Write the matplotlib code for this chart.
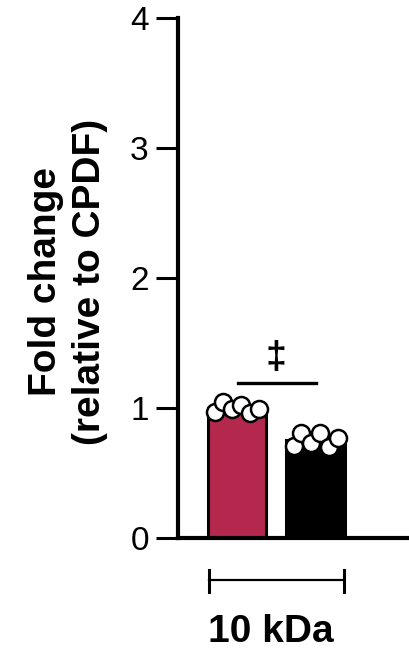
import matplotlib.pyplot as plt

plt.rcParams['font.family'] = ['Liberation Sans', 'DejaVu Sans']

groups = ['CPDF', 'Other']
bar_colors = ['#b5284e', '#000000']
red_points = [0.97, 1.05, 0.99, 1.02, 0.96, 0.99]
black_points = [0.71, 0.81, 0.73, 0.81, 0.70, 0.77]
point_offsets = [-0.28, -0.18, -0.06, 0.05, 0.17, 0.28]
yticks = [0, 1, 2, 3, 4]
xlabel = '10 kDa'
ylabel = 'Fold change\n(relative to CPDF)'
sig_mark = '‡'

fig = plt.figure(figsize=(4.1, 6.49), dpi=100)
ax = fig.add_axes([0.434, 0.171, 0.566, 0.801])

series = [red_points, black_points]
for i, pts in enumerate(series):
    mean = sum(pts) / len(pts)
    ax.bar(i, mean, width=0.74, color=bar_colors[i], edgecolor='black',
           linewidth=2.2, zorder=2)
    xs = [i + o for o in point_offsets]
    ax.scatter(xs, pts, s=150, facecolor='white', edgecolor='black',
               linewidth=1.8, zorder=3, clip_on=False)

ax.set_xlim(-0.75, 2.2)
ax.set_ylim(0, 4)
ax.set_yticks(yticks)
ax.set_xticks([])
for s in ['top', 'right']:
    ax.spines[s].set_visible(False)
ax.spines['left'].set_linewidth(3)
ax.spines['bottom'].set_linewidth(3)
ax.tick_params(axis='y', length=16, width=2.2, labelsize=24, pad=5)

# significance
ax.plot([0.01, 1.0], [1.19, 1.19], color='black', linewidth=2.4)
ax.text(0.5, 1.25, sig_mark, ha='center', va='bottom', fontsize=27,
        fontweight='bold')

# group bracket below axis
tr = ax.get_xaxis_transform()
ax.plot([-0.36, 1.36], [-0.081, -0.081], color='black', linewidth=1.6,
        transform=tr, clip_on=False)
for xe in [-0.36, 1.36]:
    ax.plot([xe, xe], [-0.062, -0.103], color='black', linewidth=2.2,
            transform=tr, clip_on=False)
ax.text(0.43, -0.181, xlabel, transform=tr, ha='center', va='center',
        fontsize=28, fontweight='bold')

fig.text(68 / 410, 1 - 282 / 649, ylabel, rotation=90, ha='center',
         va='center', fontsize=28, fontweight='bold', linespacing=1.3,
         multialignment='center')

fig.savefig('out.png', dpi=100)
